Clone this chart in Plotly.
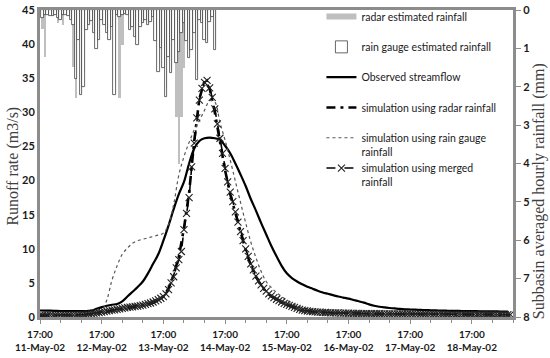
import pandas as pd
import plotly.graph_objects as go

# ---------------- data ----------------
start_time = "2002-05-11 17:00"

# hourly rainfall (mm), starting 18:00 11-May-02
radar_rain = [0.5, 1.22, 0.1, 0.1, 0.15, 0.1, 0.33, 0.2, 0.4, 0.1,
              0.1, 0.2, 1.48, 2.3, 0.6, 1.8, 1.6, 0.4, 0.3, 0.2,
              0.5, 0.8, 0.6, 0.2, 0.3, 0.5, 0.6, 0.3, 1.9, 0.13,
              2.3, 0.9, 0.1, 0.1, 0.4, 0.35, 0.6, 0.8, 0.35, 0.3,
              0.2, 0.3, 0.25, 0.15, 0.7, 1.4, 0.9, 1.3, 2.0, 1.1,
              1.5, 0.7, 2.8, 4.0, 2.8, 1.5, 0.7, 1.1, 0.9, 0.5,
              1.6, 0.2, 0.3, 0.7, 0.8, 0.25, 0.15, 0.9]
gauge_rain = [0.22, 0.12, 0.12, 0.15, 0.16, 0.13, 0.22, 0.26, 0.13, 0.13,
              0.16, 0.26, 0.39, 1.80, 0.78, 2.21, 2.00, 0.52, 0.39, 0.28,
              0.60, 1.02, 0.78, 0.26, 0.39, 0.61, 0.78, 0.43, 2.21, 0.13,
              0.17, 0.13, 0.10, 0.13, 0.52, 0.43, 0.70, 0.91, 0.43, 0.35,
              0.26, 0.39, 0.30, 0.17, 0.82, 1.61, 1.00, 1.52, 2.26, 1.22,
              1.65, 0.78, 1.39, 1.09, 0.60, 0.35, 0.82, 1.26, 1.04, 0.61,
              1.82, 0.26, 0.35, 0.78, 0.87, 0.30, 0.17, 1.05]

# streamflow (m3/s), every 2 hours from 17:00 11-May-02
observed = [0.95, 0.93, 0.92, 0.9, 0.88, 0.87, 0.86, 0.85, 0.85, 0.86,
            0.95, 1.2, 1.45, 1.65, 1.8, 1.9, 2.3, 3.0, 3.7, 4.4,
            5.2, 6.4, 7.8, 9.2, 11.2, 13.4, 15.8, 18.0, 19.8, 22.5,
            24.7, 25.8, 26.2, 26.3, 26.2, 26.0, 25.1, 24.0, 22.5, 20.9,
            19.2, 17.3, 15.6, 13.8, 12.1, 10.4, 8.9, 7.5, 6.4, 5.7,
            5.2, 4.8, 4.45, 4.15, 3.85, 3.6, 3.4, 3.2, 3.0, 2.85,
            2.7, 2.5, 2.3, 2.1, 1.85, 1.65, 1.5, 1.4, 1.32, 1.25,
            1.18, 1.13, 1.1, 1.07, 1.04, 1.01, 0.98, 0.96, 0.94, 0.92,
            0.9, 0.89, 0.88, 0.87, 0.86, 0.85, 0.84, 0.83, 0.82, 0.81,
            0.8, 0.8]
sim_radar = [0.2, 0.2, 0.2, 0.2, 0.22, 0.23, 0.24, 0.26, 0.3, 0.36,
             0.45, 0.55, 0.66, 0.8, 0.95, 1.08, 1.2, 1.32, 1.42, 1.52,
             1.65, 1.85, 2.1, 2.45, 3.0, 4.2, 6.2, 8.8, 13.0, 18.2,
             25.8, 32.0, 34.6, 33.5, 30.0, 25.5, 21.5, 18.0, 15.2, 12.3,
             9.8, 7.6, 5.9, 4.6, 3.7, 3.0, 2.5, 2.1, 1.8, 1.5,
             1.2, 1.0, 0.86, 0.77, 0.71, 0.66, 0.62, 0.59, 0.57, 0.55,
             0.53, 0.52, 0.5, 0.49, 0.48, 0.47, 0.46, 0.45, 0.45, 0.44,
             0.43, 0.43, 0.42, 0.42, 0.41, 0.41, 0.4, 0.4, 0.39, 0.39,
             0.39, 0.38, 0.38, 0.38, 0.37, 0.37, 0.37, 0.36, 0.36, 0.36,
             0.35, 0.35]
sim_gauge = [0.2, 0.2, 0.2, 0.2, 0.2, 0.2, 0.2, 0.22, 0.25, 0.3,
             0.35, 0.5, 0.9, 2.5, 5.4, 7.5, 9.2, 10.1, 10.8, 11.2,
             11.4, 11.6, 11.8, 12.0, 12.3, 13.5, 16.5, 20.8, 23.5, 25.6,
             27.4, 28.8, 30.3, 31.7, 31.5, 28.5, 25.9, 23.0, 19.9, 16.8,
             13.8, 11.0, 8.7, 6.7, 5.2, 4.3, 3.6, 3.0, 2.5, 2.0,
             1.65, 1.38, 1.18, 1.03, 0.92, 0.84, 0.77, 0.71, 0.66, 0.62,
             0.58, 0.55, 0.53, 0.51, 0.49, 0.47, 0.46, 0.45, 0.44, 0.43,
             0.42, 0.41, 0.41, 0.4, 0.4, 0.39, 0.39, 0.38, 0.38, 0.38,
             0.37, 0.37, 0.37, 0.36, 0.36, 0.36, 0.35, 0.35, 0.35, 0.35,
             0.34, 0.34]
# hourly from 17:00 11-May-02
sim_merged = [0.25, 0.25, 0.25, 0.25, 0.25, 0.25, 0.26, 0.26, 0.27, 0.27,
              0.28, 0.28, 0.29, 0.30, 0.31, 0.32, 0.34, 0.36, 0.40, 0.45,
              0.50, 0.55, 0.60, 0.65, 0.70, 0.78, 0.85, 0.92, 1.00, 1.06,
              1.12, 1.20, 1.28, 1.34, 1.40, 1.45, 1.50, 1.55, 1.60, 1.66,
              1.74, 1.85, 1.95, 2.05, 2.20, 2.35, 2.55, 2.75, 3.00, 3.40,
              4.0, 5.0, 5.9, 7.2, 8.4, 9.6, 12.8, 15.2, 17.5, 22.0,
              25.5, 29.2, 31.8, 33.5, 34.4, 34.7, 33.6, 32.2, 30.5, 28.3,
              26.2, 24.0, 21.8, 19.8, 18.3, 16.9, 15.4, 13.9, 12.5, 11.2,
              10.0, 8.9, 7.8, 6.9, 6.0, 5.3, 4.7, 4.2, 3.8, 3.4,
              3.1, 2.85, 2.6, 2.4, 2.2, 2.0, 1.85, 1.7, 1.55, 1.4,
              1.25, 1.12, 1.02, 0.95, 0.88, 0.82, 0.78, 0.75, 0.72, 0.70,
              0.68, 0.66, 0.64, 0.62, 0.61, 0.60, 0.59, 0.58, 0.57, 0.56,
              0.55, 0.54, 0.53, 0.53, 0.52, 0.51, 0.51, 0.50, 0.50, 0.49,
              0.49, 0.48, 0.48, 0.47, 0.47, 0.47, 0.46, 0.46, 0.46, 0.45,
              0.45, 0.45, 0.44, 0.44, 0.44, 0.43, 0.43, 0.43, 0.43, 0.42,
              0.42, 0.42, 0.42, 0.41, 0.41, 0.41, 0.41, 0.40, 0.40, 0.40,
              0.40, 0.40, 0.39, 0.39, 0.39, 0.39, 0.38, 0.38, 0.38, 0.38,
              0.38, 0.37, 0.37, 0.37, 0.37, 0.37, 0.36, 0.36, 0.36, 0.36,
              0.36, 0.35, 0.35, 0.35]

# ---------------- time axes ----------------
t0 = pd.Timestamp(start_time)
t_rain = pd.date_range(t0 + pd.Timedelta(hours=1), periods=len(gauge_rain), freq="h")
t_2h = pd.date_range(t0, periods=len(observed), freq="2h")
t_1h = pd.date_range(t0, periods=len(sim_merged), freq="h")
t_end = t0 + pd.Timedelta(hours=184)

AX = "#8c8c8c"
YTICKFONT = dict(family="Lato", size=11, color="#1a1a1a", weight="bold")
XTICKFONT = dict(family="Lato", size=10, color="#1a1a1a", weight="bold")

fig = go.Figure()

# legend proxy for radar rainfall (wide grey bar symbol)
fig.add_trace(go.Scatter(x=[None], y=[None], mode="lines",
                         line=dict(color="#bfbfbf", width=6),
                         name="radar estimated rainfall<br> ", yaxis="y2"))
fig.add_trace(go.Bar(x=t_rain, y=radar_rain, width=3600000, yaxis="y2",
                     marker=dict(color="#bfbfbf", line=dict(width=0)),
                     showlegend=False, name="radar"))
fig.add_trace(go.Bar(x=t_rain, y=gauge_rain, width=3600000, yaxis="y2",
                     marker=dict(color="white", line=dict(color="#404040", width=0.8)),
                     name="rain gauge estimated rainfall<br> "))
fig.add_trace(go.Scatter(x=t_2h, y=observed, mode="lines",
                         line=dict(color="black", width=2.2, shape="spline"),
                         name="Observed streamflow<br> "))
fig.add_trace(go.Scatter(x=t_2h, y=sim_radar, mode="lines",
                         line=dict(color="black", width=2.6, dash="9px,5px,3px,5px"),
                         name="simulation using radar rainfall<br> "))
fig.add_trace(go.Scatter(x=t_2h, y=sim_gauge, mode="lines",
                         line=dict(color="#555555", width=1.2, dash="dot", shape="spline"),
                         name="simulation using rain gauge<br>rainfall"))
fig.add_trace(go.Scatter(x=t_1h, y=sim_merged, mode="lines+markers",
                         line=dict(color="black", width=1.6, dash="dash"),
                         marker=dict(symbol="x-thin", size=7,
                                     line=dict(width=1.1, color="#222222")),
                         name="simulation using merged<br>rainfall"))

fig.update_layout(
    width=550, height=358,
    margin=dict(l=40, r=37, t=10, b=41, autoexpand=False),
    paper_bgcolor="white", plot_bgcolor="white",
    barmode="overlay", bargap=0,
    showlegend=True,
    legend=dict(x=0.595, y=1.022, xanchor="left", yanchor="top",
                bgcolor="rgba(0,0,0,0)", valign="top", itemwidth=30,
                tracegroupgap=0, maxheight=340,
                font=dict(family="Lato", size=10.5, color="#1a1a1a")),
    xaxis=dict(type="date", range=[t0, t_end], automargin=False,
               tick0=start_time, dtick=86400000,
               tickformat="%H:%M<br>%d-%b-%y",
               showline=True, linecolor=AX, linewidth=3, mirror=True,
               ticks="outside", ticklen=4, tickcolor=AX,
               ticklabelstandoff=2,
               minor=dict(dtick=8 * 3600000, tick0=start_time, ticks="outside",
                          ticklen=3, tickcolor=AX),
               showgrid=False, zeroline=False, tickfont=XTICKFONT),
    yaxis=dict(range=[0, 45], dtick=5, showline=True, linecolor=AX,
               linewidth=3, mirror=True, ticks="", showgrid=False,
               zeroline=False, tickfont=YTICKFONT, automargin=False),
    yaxis2=dict(range=[8, 0], dtick=1, overlaying="y", side="right",
                showline=True, linecolor=AX, linewidth=3,
                ticks="outside", ticklen=5, tickcolor=AX, automargin=False,
                showgrid=False, zeroline=False, tickfont=YTICKFONT),
    annotations=[
        dict(text="Runoff rate (m3/s)", xref="paper", yref="paper",
             x=-0.057, y=0.49, textangle=-90, showarrow=False,
             xanchor="center", yanchor="middle",
             font=dict(family="Liberation Serif", size=16, color="#404040")),
        dict(text="Subbasin averaged hourly rainfall (mm)", xref="paper", yref="paper",
             x=1.055, y=0.41, textangle=-90, showarrow=False,
             xanchor="center", yanchor="middle",
             font=dict(family="Liberation Serif", size=16, color="#404040")),
    ],
)

fig.write_html("out.html", config={"displayModeBar": False},
               post_script="document.body.style.margin='0';")
